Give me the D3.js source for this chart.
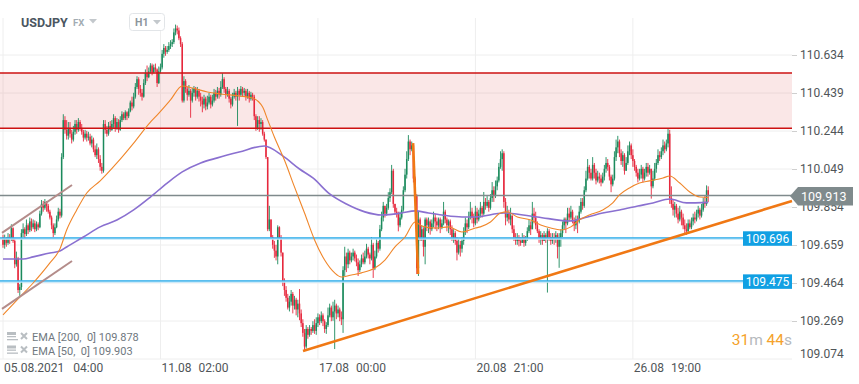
<!DOCTYPE html>
<html><head><meta charset="utf-8">
<script src="https://cdn.jsdelivr.net/npm/d3@7"></script>
<style>body{margin:0;background:#fff;} svg{display:block;font-family:Roboto,'Liberation Sans',sans-serif;}</style>
</head><body><svg id="c" width="859" height="384"></svg>
<script>
// ---------- data ----------
const firstOpen = 109.700;
const closes = [
109.660,109.690,109.670,109.700,109.690,109.745,109.680,109.560,109.590,109.428,
109.443,109.720,109.740,109.715,109.760,109.735,109.780,109.750,109.770,109.740,
109.765,109.750,109.820,109.870,109.850,109.880,109.860,109.830,109.800,109.760,
109.720,109.750,109.790,109.830,109.810,110.110,110.300,110.250,110.220,110.260,
110.230,110.200,110.240,110.280,110.250,110.290,110.260,110.240,110.210,110.230,
110.210,110.215,110.180,110.200,110.150,110.120,110.150,110.100,110.060,110.040,
110.280,110.250,110.230,110.270,110.250,110.280,110.310,110.260,110.290,110.250,
110.300,110.330,110.310,110.340,110.320,110.345,110.390,110.370,110.420,110.470,
110.510,110.460,110.440,110.420,110.490,110.540,110.520,110.550,110.580,110.545,
110.570,110.560,110.490,110.550,110.570,110.640,110.670,110.650,110.660,110.680,
110.690,110.700,110.750,110.770,110.760,110.720,110.690,110.400,110.500,110.460,
110.430,110.450,110.400,110.440,110.460,110.420,110.450,110.420,110.400,110.380,
110.410,110.370,110.390,110.420,110.380,110.400,110.440,110.420,110.450,110.430,
110.470,110.510,110.460,110.430,110.450,110.410,110.380,110.420,110.440,110.420,
110.450,110.430,110.460,110.440,110.450,110.420,110.440,110.410,110.430,110.420,
110.320,110.260,110.300,110.280,110.290,110.230,110.200,110.110,109.740,109.790,
109.700,109.660,109.630,109.600,109.750,109.700,109.620,109.468,109.428,109.388,
109.338,109.368,109.408,109.348,109.378,109.328,109.358,109.308,109.258,109.208,
109.138,109.228,109.198,109.228,109.218,109.248,109.218,109.258,109.288,109.268,
109.298,109.268,109.228,109.248,109.298,109.338,109.288,109.318,109.348,109.308,
109.328,109.288,109.278,109.530,109.600,109.560,109.620,109.580,109.600,109.620,
109.590,109.570,109.530,109.560,109.590,109.570,109.600,109.640,109.610,109.590,
109.660,109.540,109.600,109.670,109.640,109.740,109.800,109.860,109.820,109.850,
109.900,109.930,110.040,109.870,109.830,109.820,109.760,109.800,109.840,109.940,
110.020,110.100,110.190,110.150,110.170,110.000,109.910,109.540,109.790,109.700,
109.740,109.650,109.790,109.760,109.780,109.740,109.770,109.800,109.780,109.760,
109.790,109.750,109.770,109.830,109.790,109.760,109.780,109.740,109.700,109.720,
109.680,109.620,109.660,109.640,109.680,109.730,109.770,109.750,109.800,109.830,
109.800,109.770,109.830,109.790,109.820,109.850,109.820,109.880,109.860,109.880,
109.850,109.900,109.940,109.910,109.960,109.990,110.060,110.100,110.130,109.880,
109.800,109.820,109.790,109.810,109.740,109.700,109.680,109.700,109.680,109.670,
109.700,109.670,109.690,109.730,109.760,109.740,109.820,109.800,109.760,109.730,
109.690,109.710,109.680,109.710,109.690,109.730,109.700,109.680,109.700,109.690,
109.710,109.650,109.700,109.720,109.760,109.790,109.770,109.820,109.800,109.830,
109.780,109.760,109.790,109.780,109.830,109.880,109.860,109.940,110.000,110.060,
110.030,110.000,110.070,110.030,109.990,110.010,110.000,109.980,110.010,110.050,
110.080,110.060,110.010,109.970,110.000,110.110,110.160,110.190,110.130,110.090,
110.120,110.040,110.080,110.140,110.170,110.120,110.090,110.060,110.030,110.000,
110.020,110.050,110.000,110.030,110.060,110.030,110.050,109.960,110.000,110.050,
110.080,110.120,110.110,110.140,110.170,110.150,110.180,110.230,109.900,109.870,
109.840,109.860,109.820,109.790,109.830,109.800,109.760,109.740,109.730,109.770,
109.750,109.780,109.800,109.790,109.820,109.840,109.810,109.840,109.880,109.870,
109.940,109.913];
const highs = [
109.712,109.712,109.700,109.720,109.715,109.765,109.750,109.690,109.625,109.598,
109.458,109.740,109.770,109.750,109.790,109.770,109.800,109.795,109.790,109.785,
109.780,109.775,109.835,109.890,109.885,109.895,109.885,109.870,109.840,109.810,
109.770,109.770,109.810,109.850,109.845,110.130,110.330,110.320,110.300,110.290,
110.290,110.250,110.270,110.300,110.300,110.310,110.300,110.280,110.250,110.250,
110.245,110.240,110.230,110.220,110.210,110.170,110.180,110.160,110.120,110.080,
110.300,110.300,110.270,110.290,110.295,110.300,110.330,110.320,110.310,110.305,
110.320,110.345,110.340,110.350,110.345,110.360,110.400,110.420,110.440,110.490,
110.525,110.520,110.480,110.460,110.510,110.560,110.580,110.570,110.592,110.590,
110.585,110.590,110.565,110.575,110.590,110.660,110.690,110.680,110.680,110.700,
110.710,110.715,110.770,110.790,110.785,110.775,110.730,110.700,110.525,110.510,
110.470,110.480,110.460,110.465,110.475,110.470,110.470,110.460,110.440,110.420,
110.430,110.420,110.425,110.440,110.430,110.430,110.460,110.455,110.470,110.465,
110.500,110.540,110.520,110.470,110.470,110.460,110.420,110.440,110.460,110.450,
110.470,110.460,110.475,110.470,110.465,110.460,110.460,110.450,110.445,110.440,
110.430,110.330,110.320,110.320,110.310,110.300,110.240,110.200,110.110,109.860,
109.790,109.710,109.680,109.660,109.760,109.755,109.710,109.618,109.488,109.448,
109.408,109.398,109.428,109.418,109.398,109.388,109.378,109.433,109.328,109.278,
109.228,109.248,109.238,109.248,109.238,109.268,109.278,109.288,109.308,109.303,
109.318,109.308,109.278,109.263,109.338,109.358,109.348,109.368,109.378,109.358,
109.348,109.338,109.318,109.550,109.650,109.620,109.640,109.630,109.620,109.640,
109.630,109.610,109.590,109.580,109.610,109.620,109.630,109.665,109.650,109.620,
109.700,109.670,109.630,109.690,109.680,109.762,109.830,109.880,109.860,109.870,
109.930,109.950,110.070,110.050,109.870,109.850,109.830,109.830,109.860,109.960,
110.050,110.140,110.223,110.200,110.190,110.175,110.010,109.920,109.830,109.800,
109.760,109.750,109.800,109.800,109.800,109.790,109.790,109.830,109.820,109.800,
109.800,109.800,109.790,109.880,109.840,109.800,109.790,109.790,109.760,109.740,
109.730,109.700,109.690,109.680,109.700,109.750,109.800,109.790,109.830,109.880,
109.850,109.820,109.860,109.850,109.840,109.880,109.860,109.931,109.900,109.910,
109.890,109.920,109.982,109.960,109.990,110.010,110.080,110.140,110.150,110.140,
109.900,109.860,109.840,109.850,109.810,109.760,109.720,109.720,109.710,109.700,
109.720,109.710,109.705,109.750,109.790,109.780,109.880,109.850,109.830,109.780,
109.740,109.730,109.720,109.730,109.720,109.745,109.740,109.720,109.720,109.720,
109.730,109.720,109.720,109.740,109.780,109.800,109.800,109.850,109.850,109.860,
109.840,109.800,109.810,109.810,109.860,109.900,109.900,109.960,110.040,110.100,
110.070,110.050,110.110,110.080,110.050,110.040,110.030,110.020,110.030,110.070,
110.110,110.100,110.070,110.020,110.020,110.140,110.200,110.219,110.200,110.150,
110.140,110.130,110.110,110.170,110.190,110.180,110.150,110.100,110.070,110.050,
110.050,110.070,110.060,110.050,110.080,110.080,110.070,110.050,110.040,110.080,
110.100,110.150,110.140,110.160,110.200,110.190,110.200,110.256,110.250,109.960,
109.890,109.880,109.870,109.850,109.860,109.840,109.820,109.790,109.770,109.790,
109.790,109.800,109.820,109.830,109.840,109.860,109.850,109.870,109.900,109.910,
109.965,109.960];
const lows = [
109.645,109.640,109.650,109.660,109.665,109.680,109.670,109.540,109.548,109.413,
109.398,109.428,109.700,109.690,109.705,109.715,109.725,109.730,109.740,109.725,
109.730,109.735,109.745,109.810,109.830,109.840,109.830,109.820,109.790,109.740,
109.700,109.710,109.745,109.780,109.795,109.800,110.100,110.230,110.200,110.200,
110.210,110.180,110.190,110.225,110.230,110.240,110.245,110.225,110.190,110.200,
110.190,110.195,110.170,110.160,110.135,110.110,110.100,110.080,110.040,110.025,
110.030,110.230,110.215,110.220,110.240,110.245,110.260,110.240,110.250,110.235,
110.245,110.290,110.300,110.300,110.300,110.310,110.340,110.350,110.360,110.410,
110.460,110.430,110.420,110.400,110.415,110.480,110.500,110.515,110.540,110.530,
110.540,110.545,110.470,110.485,110.540,110.560,110.620,110.630,110.640,110.650,
110.665,110.675,110.690,110.735,110.740,110.710,110.675,110.390,110.390,110.440,
110.400,110.420,110.312,110.390,110.420,110.400,110.410,110.395,110.370,110.340,
110.360,110.350,110.355,110.380,110.360,110.370,110.390,110.400,110.410,110.410,
110.420,110.460,110.440,110.410,110.420,110.390,110.360,110.370,110.410,110.400,
110.270,110.400,110.420,110.420,110.425,110.400,110.410,110.390,110.400,110.400,
110.300,110.245,110.250,110.240,110.250,110.220,110.190,110.100,109.730,109.730,
109.690,109.640,109.593,109.580,109.560,109.690,109.600,109.448,109.398,109.368,
109.328,109.318,109.348,109.308,109.328,109.298,109.288,109.273,109.238,109.188,
109.115,109.128,109.178,109.188,109.198,109.208,109.203,109.198,109.238,109.248,
109.258,109.243,109.208,109.203,109.238,109.288,109.268,109.270,109.125,109.278,
109.288,109.268,109.248,109.208,109.500,109.520,109.540,109.560,109.570,109.580,
109.575,109.550,109.500,109.520,109.545,109.560,109.560,109.590,109.590,109.560,
109.580,109.490,109.530,109.590,109.620,109.630,109.730,109.780,109.800,109.810,
109.840,109.880,109.920,109.850,109.815,109.800,109.729,109.750,109.790,109.830,
109.930,110.000,110.090,110.120,110.140,109.980,109.880,109.510,109.500,109.680,
109.680,109.600,109.560,109.730,109.720,109.712,109.730,109.750,109.740,109.730,
109.740,109.720,109.740,109.760,109.770,109.729,109.720,109.710,109.680,109.670,
109.660,109.580,109.610,109.600,109.620,109.660,109.710,109.720,109.740,109.790,
109.770,109.750,109.760,109.770,109.780,109.800,109.800,109.810,109.840,109.850,
109.830,109.840,109.880,109.880,109.900,109.940,109.980,110.050,110.040,109.850,
109.760,109.780,109.770,109.760,109.720,109.680,109.660,109.660,109.652,109.655,
109.670,109.650,109.655,109.680,109.720,109.710,109.740,109.770,109.740,109.720,
109.670,109.660,109.660,109.680,109.670,109.415,109.680,109.660,109.665,109.660,
109.670,109.590,109.542,109.650,109.700,109.740,109.720,109.760,109.780,109.790,
109.770,109.730,109.740,109.720,109.770,109.820,109.840,109.850,109.930,109.990,
110.000,109.990,109.990,110.000,109.970,109.980,109.975,109.960,109.975,109.990,
110.030,110.040,109.990,109.930,109.960,109.990,110.090,110.130,110.110,110.070,
110.060,110.020,110.050,110.070,110.120,110.100,110.060,110.040,110.010,109.980,
109.990,110.000,109.980,109.990,110.010,110.010,110.020,109.897,109.950,109.990,
110.030,110.070,110.090,110.100,110.120,110.130,110.140,110.160,109.870,109.850,
109.810,109.800,109.800,109.770,109.780,109.760,109.740,109.720,109.711,109.720,
109.740,109.740,109.760,109.770,109.780,109.800,109.790,109.800,109.830,109.850,
109.860,109.880];
// EMA readings: [candle index, value]
const ema200 = [[0,109.587],[12,109.587],[18,109.598],[28,109.618],[34,109.628],[38,109.649],[48,109.700],[58,109.752],[68,109.787],[78,109.839],[88,109.905],[98,109.977],[107,110.034],[118,110.080],[128,110.106],[141,110.136],[156,110.167],[167,110.116],[177,110.049],[185,110.003],[195,109.921],[205,109.869],[216,109.829],[226,109.813],[238,109.823],[246,109.834],[254,109.823],[262,109.813],[274,109.803],[282,109.803],[299,109.823],[319,109.803],[338,109.782],[349,109.803],[358,109.823],[368,109.839],[379,109.859],[388,109.875],[398,109.895],[408,109.875],[421,109.878]];
const ema50 = [[0,109.300],[10,109.392],[18,109.464],[28,109.567],[34,109.639],[38,109.736],[44,109.839],[50,109.926],[58,109.988],[68,110.080],[78,110.182],[88,110.290],[92,110.326],[100,110.404],[107,110.475],[113,110.465],[122,110.444],[130,110.434],[141,110.424],[149,110.413],[155,110.367],[158,110.301],[162,110.213],[168,110.095],[174,109.957],[180,109.823],[186,109.685],[192,109.582],[198,109.516],[202,109.495],[208,109.505],[214,109.516],[222,109.541],[228,109.582],[234,109.649],[240,109.700],[246,109.777],[250,109.757],[258,109.746],[266,109.752],[274,109.726],[282,109.746],[285,109.752],[291,109.777],[297,109.823],[301,109.829],[307,109.803],[315,109.787],[321,109.762],[327,109.746],[333,109.736],[339,109.752],[344,109.787],[350,109.813],[358,109.839],[364,109.875],[368,109.916],[374,109.952],[380,109.977],[386,109.988],[394,110.003],[398,110.013],[404,109.977],[410,109.931],[416,109.905],[421,109.903]];
const yTicks = [110.634,110.439,110.244,110.049,109.854,109.659,109.464,109.269,109.074];
const xTickIdx = [0,94,188,282,376];
const xTickDates = ["05.08.2021","11.08","17.08","20.08","26.08"];
const xTickTimes = ["04:00","02:00","00:00","21:00","19:00"];
const zoneTop = 110.542, zoneBottom = 110.258;
const supportLevels = [109.696, 109.475];
const lastPrice = 109.913;
const trendMain = [[179.1,109.115],[471,109.885]];
const channelUpper = [[-0.6,109.721],[41.2,109.967]];
const channelLower = [[-0.6,109.331],[41.2,109.577]];
const spikeLine = [[244.8,110.182],[247.8,109.510]];
const legendRows = ["EMA [200,  0] 109.878","EMA [50,  0] 109.903"];
const timerParts = [["31","num"],["m","unit"],[" 44","num"],["s","unit"]];

// ---------- drawing ----------
const svg = d3.select("#c");
const PL = 0, PR = 792, PT = 18, PB = 359;
const x = d3.scaleLinear().domain([0,471]).range([3,792]);
const y = d3.scaleLinear().domain([109.074,110.634]).range([359,55]);
const GREEN = "#1b8a5c", RED = "#e6283d";

// grid
const grid = svg.append("g");
grid.selectAll("line.v").data(xTickIdx).join("line")
  .attr("x1",d=>x(d)).attr("x2",d=>x(d)).attr("y1",PT).attr("y2",PB)
  .attr("stroke","#eeeeee").attr("stroke-width",1);
grid.selectAll("line.h").data(yTicks).join("line")
  .attr("x1",PL).attr("x2",PR).attr("y1",d=>y(d)).attr("y2",d=>y(d))
  .attr("stroke","#eeeeee").attr("stroke-width",1);

// resistance zone
svg.append("rect").attr("x",PL).attr("width",PR-PL)
  .attr("y",y(zoneTop)).attr("height",y(zoneBottom)-y(zoneTop))
  .attr("fill","rgb(228,110,110)").attr("fill-opacity",0.17);

// candles
const cg = svg.append("g");
closes.forEach((c,i)=>{
  const o = i===0 ? firstOpen : closes[i-1];
  const h = Math.max(highs[i],o,c), l = Math.min(lows[i],o,c);
  const col = c>=o ? GREEN : RED;
  cg.append("line").attr("x1",x(i)).attr("x2",x(i)).attr("y1",y(h)).attr("y2",y(l))
    .attr("stroke",col).attr("stroke-width",0.9);
  const top = y(Math.max(o,c)), bot = y(Math.min(o,c));
  cg.append("rect").attr("x",x(i)-0.75).attr("width",1.5)
    .attr("y",top).attr("height",Math.max(0.8,bot-top)).attr("fill",col);
});

// horizontal lines
[zoneTop,zoneBottom].forEach(v=>{
  svg.append("line").attr("x1",PL).attr("x2",PR).attr("y1",y(v)).attr("y2",y(v))
    .attr("stroke","#cc1212").attr("stroke-width",1.4);
});
supportLevels.forEach(v=>{
  svg.append("line").attr("x1",PL).attr("x2",PR).attr("y1",y(v)+1).attr("y2",y(v)+1)
    .attr("stroke","#bfe6fa").attr("stroke-width",2);
  svg.append("line").attr("x1",PL).attr("x2",PR).attr("y1",y(v)).attr("y2",y(v))
    .attr("stroke","#2aaae8").attr("stroke-width",1.2);
});
svg.append("line").attr("x1",PL).attr("x2",PR).attr("y1",y(lastPrice)).attr("y2",y(lastPrice))
  .attr("stroke","#7f8a8c").attr("stroke-width",1.4);

// EMAs
const ln = d3.line().x(d=>x(d[0])).y(d=>y(d[1])).curve(d3.curveMonotoneX);
svg.append("path").attr("d",ln(ema200)).attr("fill","none")
  .attr("stroke","#8a70d0").attr("stroke-width",1.6);
svg.append("path").attr("d",ln(ema50)).attr("fill","none")
  .attr("stroke","#f0862a").attr("stroke-width",1.1);

// drawings
const sl = d3.line().x(d=>x(d[0])).y(d=>y(d[1]));
[channelUpper,channelLower].forEach(t=>{
  svg.append("path").attr("d",sl(t)).attr("fill","none")
    .attr("stroke","#b48c8a").attr("stroke-width",2);
});
svg.append("path").attr("d",sl(trendMain)).attr("fill","none")
  .attr("stroke","#f07814").attr("stroke-width",2.6);
svg.append("path").attr("d",sl(spikeLine)).attr("fill","none")
  .attr("stroke","#f07814").attr("stroke-width",2.6);

// level labels
supportLevels.forEach(v=>{
  svg.append("rect").attr("x",743).attr("width",49).attr("y",y(v)-6.5).attr("height",14.5)
    .attr("fill","#11a0e3");
  svg.append("text").attr("x",767.5).attr("y",y(v)+4.8).attr("text-anchor","middle")
    .attr("font-size",12).attr("fill","#fff").text(d3.format(".3f")(v));
});

// y axis
const ax = svg.append("g").attr("transform",`translate(${PR},0)`)
  .call(d3.axisRight(y).tickValues(yTicks).tickSize(5).tickPadding(3).tickFormat(d3.format(".3f")));
ax.select(".domain").remove();
ax.selectAll(".tick line").attr("stroke","#cfcfcf");
ax.selectAll(".tick text").attr("font-size",12).attr("fill","#505558")
  .attr("font-family","Roboto,'Liberation Sans',sans-serif");
ax.selectAll(".tick").filter(d=>d===109.074).select("text").attr("transform","translate(0,-5)");
ax.selectAll(".tick").filter(d=>d===109.074).select("line").remove();

// last price tag
const yy = y(lastPrice);
svg.append("polygon")
  .attr("points",`790,${yy+0.5} 798,${yy-8.5} 853,${yy-8.5} 853,${yy+10} 798,${yy+10}`)
  .attr("fill","#7f8a8c");
svg.append("text").attr("x",801).attr("y",yy+5.5).attr("font-size",12.5).attr("fill","#fff")
  .text(d3.format(".3f")(lastPrice));

// x labels
xTickIdx.forEach((d,k)=>{
  const t = svg.append("text").attr("x",x(d)+1).attr("y",372).attr("font-size",12).attr("fill","#505558");
  t.append("tspan").text(xTickDates[k]);
  t.append("tspan").attr("dx",k===0?9:7).text(xTickTimes[k]);
});

// header
svg.append("text").attr("x",21).attr("y",27).attr("font-size",12.5).attr("font-weight","bold")
  .attr("fill","#4b5661").text("USDJPY");
svg.append("text").attr("x",73).attr("y",26).attr("font-size",9.5).attr("font-weight","bold")
  .attr("fill","#a3acb3").text("FX");
svg.append("polygon").attr("points","89,19 97,19 93,23.5").attr("fill","#c3c8cc");
svg.append("rect").attr("x",129.5).attr("y",13.5).attr("width",35).attr("height",17).attr("rx",3)
  .attr("fill","#fff").attr("stroke","#e2e5e8");
svg.append("text").attr("x",135).attr("y",26).attr("font-size",10.5).attr("font-weight","bold")
  .attr("fill","#8c959c").text("H1");
svg.append("polygon").attr("points","153,20 161,20 157,24.5").attr("fill","#c3c8cc");

// legend
legendRows.forEach((s,k)=>{
  const cy = 337 + k*13.5;
  svg.append("rect").attr("x",7).attr("y",cy-5).attr("width",9).attr("height",3).attr("fill","#b9bec2");
  svg.append("rect").attr("x",7).attr("y",cy-1).attr("width",9).attr("height",1.3).attr("fill","#b9bec2");
  svg.append("rect").attr("x",7).attr("y",cy+2).attr("width",11).attr("height",1.3).attr("fill","#b9bec2");
  svg.append("path").attr("d",`M21,${cy-4} L27,${cy+2} M27,${cy-4} L21,${cy+2}`)
    .attr("stroke","#b9bec2").attr("stroke-width",2);
  svg.append("text").attr("x",32).attr("y",cy+4).attr("font-size",11).attr("fill","#6f7880")
    .style("white-space","pre").text(s);
});

// timer
const tt = svg.append("text").attr("x",792).attr("y",345).attr("text-anchor","end")
  .attr("font-size",15.5).style("white-space","pre");
timerParts.forEach(p=>{
  tt.append("tspan").attr("fill",p[1]==="num"?"#f5a22a":"#b5b9bc").text(p[0]);
});
</script></body></html>
